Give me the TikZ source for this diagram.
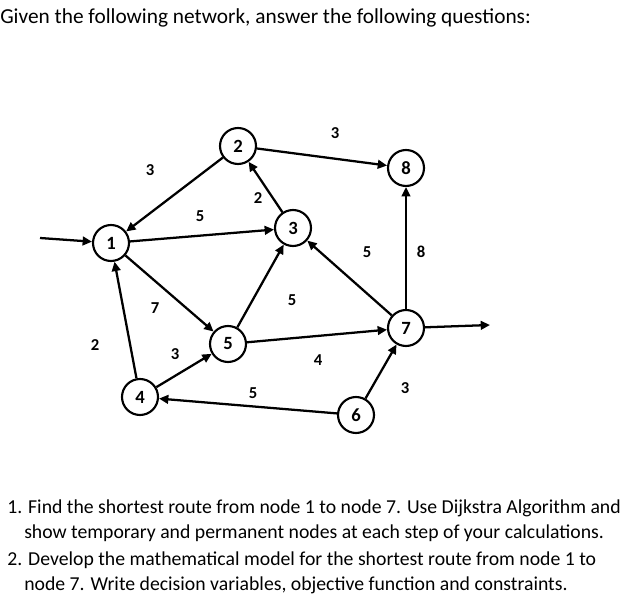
\documentclass[tikz,border=0pt]{standalone}
\usepackage{fontspec}
\setmainfont{Carlito}
\usetikzlibrary{arrows.meta}
\begin{document}
\begin{tikzpicture}[x=0.75pt,y=-0.75pt,
  nd/.style={circle,draw,line width=1.6pt,minimum size=27pt,inner sep=0pt,font=\fontsize{14}{14}\selectfont\bfseries},
  ed/.style={line width=1.7pt,-{Triangle[length=7pt,width=6.5pt]}},
  lb/.style={font=\fontsize{12.5}{12.5}\selectfont\bfseries},
  tx/.style={anchor=west,inner sep=0pt,font=\fontsize{14.8}{14.8}\selectfont}]
\useasboundingbox (0,0) rectangle (625,602);
\node[nd] (n1) at (111,243) {1};
\node[nd] (n2) at (238,146) {2};
\node[nd] (n3) at (293,228) {3};
\node[nd] (n8) at (406,168) {8};
\node[nd] (n5) at (228,344) {5};
\node[nd] (n7) at (406,328) {7};
\node[nd] (n4) at (140,397) {4};
\node[nd] (n6) at (356,415) {6};
\coordinate (in) at (40,238);
\coordinate (out) at (490,325);
\draw[ed] (in) -- (n1);
\draw[ed] (n7) -- (out);
\draw[ed] (n2) -- (n1);
\draw[ed] (n2) -- (n8);
\draw[ed] (n1) -- (n3);
\draw[ed] (n3) -- (n2);
\draw[ed] (n7) -- (n3);
\draw[ed] (n7) -- (n8);
\draw[ed] (n1) -- (n5);
\draw[ed] (n5) -- (n3);
\draw[ed] (n5) -- (n7);
\draw[ed] (n4) -- (n1);
\draw[ed] (n4) -- (n5);
\draw[ed] (n6) -- (n4);
\draw[ed] (n6) -- (n7);
\node[lb] (l1) at (150,170) {3};
\node[lb] (l2) at (335,133) {3};
\node[lb] (l3) at (200,216) {5};
\node[lb] (l4) at (258,198) {2};
\node[lb] (l5) at (367,252) {5};
\node[lb] (l6) at (421,252) {8};
\node[lb] (l7) at (155,308) {7};
\node[lb] (l8) at (292,300) {5};
\node[lb] (l9) at (318,360) {4};
\node[lb] (l10) at (95,345) {2};
\node[lb] (l11) at (175,354) {3};
\node[lb] (l12) at (253,393) {5};
\node[lb] (l13) at (405,388) {3};
\node[tx,font=\fontsize{16}{16}\selectfont] (t0) at (0,18) {Given the following network, answer the following questions:};
\node[tx] (q1) at (7,508) {1. Find the shortest route from node 1 to node 7. Use Dijkstra Algorithm and};
\node[tx] (q1b) at (24,533) {show temporary and permanent nodes at each step of your calculations.};
\node[tx] (q2) at (7,560) {2. Develop the mathematical model for the shortest route from node 1 to};
\node[tx] (q2b) at (24,585) {node 7. Write decision variables, objective function and constraints.};
\end{tikzpicture}
\end{document}
